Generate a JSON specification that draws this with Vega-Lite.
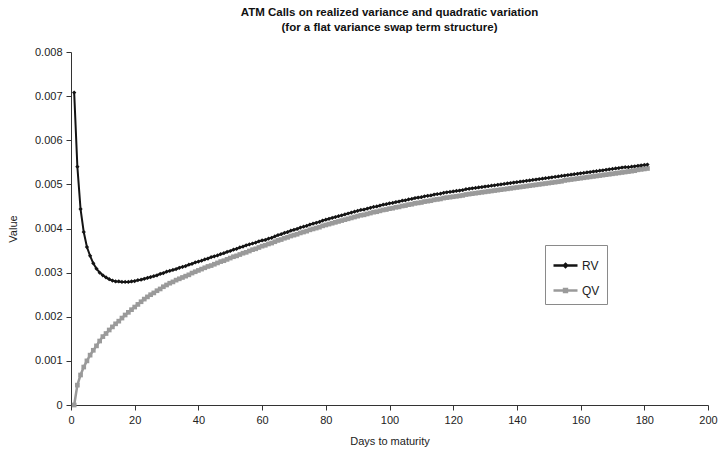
{
  "$schema": "https://vega.github.io/schema/vega-lite/v6.json",
  "autosize": "none",
  "width": 637,
  "height": 353,
  "padding": {"left": 71, "top": 52, "right": 11, "bottom": 45},
  "background": "white",
  "title": {
    "text": ["ATM Calls on realized variance and quadratic variation", "(for a flat variance swap term structure)"],
    "font": "Liberation Sans",
    "fontSize": 11.5,
    "fontWeight": "bold",
    "color": "#111111",
    "lineHeight": 15,
    "offset": 13,
    "anchor": "middle"
  },
  "config": {
    "view": {"stroke": null},
    "axis": {
      "grid": false,
      "labelFont": "Liberation Sans",
      "labelFontSize": 11,
      "labelColor": "#222222",
      "titleFont": "Liberation Sans",
      "titleFontSize": 11,
      "titleFontWeight": "normal",
      "titleColor": "#222222",
      "domainColor": "#333333",
      "tickColor": "#333333",
      "tickSize": 5,
      "labelPadding": 4,
      "labelFlush": false
    },
    "legend": {
      "labelFont": "Liberation Sans",
      "labelFontSize": 12,
      "labelColor": "#222222"
    }
  },
  "data": {
    "values": [
      {"d":1,"RV":0.00708,"QV":0},
      {"d":2,"RV":0.00540,"QV":0.00045},
      {"d":3,"RV":0.00444,"QV":0.00068},
      {"d":4,"RV":0.00392,"QV":0.00086},
      {"d":5,"RV":0.00358,"QV":0.00100},
      {"d":6,"RV":0.00338,"QV":0.00113},
      {"d":7,"RV":0.00321,"QV":0.00124},
      {"d":8,"RV":0.00309,"QV":0.00134},
      {"d":9,"RV":0.00300,"QV":0.00145},
      {"d":10,"RV":0.00294,"QV":0.00155},
      {"d":11,"RV":0.00289,"QV":0.00162},
      {"d":12,"RV":0.00285,"QV":0.00170},
      {"d":13,"RV":0.00282,"QV":0.00177},
      {"d":14,"RV":0.00280,"QV":0.00184},
      {"d":15,"RV":0.00280,"QV":0.00190},
      {"d":16,"RV":0.00279,"QV":0.00197},
      {"d":17,"RV":0.00279,"QV":0.00204},
      {"d":18,"RV":0.00279,"QV":0.00210},
      {"d":19,"RV":0.00280,"QV":0.00216},
      {"d":20,"RV":0.00281,"QV":0.00222},
      {"d":21,"RV":0.00283,"QV":0.00228},
      {"d":22,"RV":0.00284,"QV":0.00234},
      {"d":23,"RV":0.00286,"QV":0.00240},
      {"d":24,"RV":0.00288,"QV":0.00245},
      {"d":25,"RV":0.00290,"QV":0.00250},
      {"d":26,"RV":0.00292,"QV":0.00254},
      {"d":27,"RV":0.00294,"QV":0.00259},
      {"d":28,"RV":0.00297,"QV":0.00263},
      {"d":29,"RV":0.00299,"QV":0.00268},
      {"d":30,"RV":0.00302,"QV":0.00272},
      {"d":31,"RV":0.00304,"QV":0.00276},
      {"d":32,"RV":0.00306,"QV":0.00279},
      {"d":33,"RV":0.00308,"QV":0.00283},
      {"d":34,"RV":0.00311,"QV":0.00286},
      {"d":35,"RV":0.00313,"QV":0.00289},
      {"d":36,"RV":0.00315,"QV":0.00292},
      {"d":37,"RV":0.00318,"QV":0.00295},
      {"d":38,"RV":0.00320,"QV":0.00299},
      {"d":39,"RV":0.00323,"QV":0.00302},
      {"d":40,"RV":0.00325,"QV":0.00305},
      {"d":41,"RV":0.00327,"QV":0.00308},
      {"d":42,"RV":0.00330,"QV":0.00311},
      {"d":43,"RV":0.00332,"QV":0.00314},
      {"d":44,"RV":0.00335,"QV":0.00316},
      {"d":45,"RV":0.00337,"QV":0.00319},
      {"d":46,"RV":0.00339,"QV":0.00322},
      {"d":47,"RV":0.00342,"QV":0.00325},
      {"d":48,"RV":0.00344,"QV":0.00327},
      {"d":49,"RV":0.00347,"QV":0.00330},
      {"d":50,"RV":0.00349,"QV":0.00333},
      {"d":51,"RV":0.00352,"QV":0.00336},
      {"d":52,"RV":0.00354,"QV":0.00338},
      {"d":53,"RV":0.00357,"QV":0.00341},
      {"d":54,"RV":0.00359,"QV":0.00344},
      {"d":55,"RV":0.00362,"QV":0.00346},
      {"d":56,"RV":0.00364,"QV":0.00349},
      {"d":57,"RV":0.00366,"QV":0.00352},
      {"d":58,"RV":0.00368,"QV":0.00354},
      {"d":59,"RV":0.00371,"QV":0.00357},
      {"d":60,"RV":0.00373,"QV":0.00360},
      {"d":61,"RV":0.00374,"QV":0.00362},
      {"d":62,"RV":0.00377,"QV":0.00365},
      {"d":63,"RV":0.00379,"QV":0.00367},
      {"d":64,"RV":0.00382,"QV":0.00370},
      {"d":65,"RV":0.00385,"QV":0.00373},
      {"d":66,"RV":0.00387,"QV":0.00375},
      {"d":67,"RV":0.00390,"QV":0.00378},
      {"d":68,"RV":0.00392,"QV":0.00380},
      {"d":69,"RV":0.00395,"QV":0.00383},
      {"d":70,"RV":0.00397,"QV":0.00385},
      {"d":71,"RV":0.00399,"QV":0.00387},
      {"d":72,"RV":0.00402,"QV":0.00390},
      {"d":73,"RV":0.00404,"QV":0.00392},
      {"d":74,"RV":0.00406,"QV":0.00394},
      {"d":75,"RV":0.00409,"QV":0.00397},
      {"d":76,"RV":0.00411,"QV":0.00399},
      {"d":77,"RV":0.00413,"QV":0.00401},
      {"d":78,"RV":0.00415,"QV":0.00403},
      {"d":79,"RV":0.00418,"QV":0.00406},
      {"d":80,"RV":0.00420,"QV":0.00408},
      {"d":81,"RV":0.00422,"QV":0.00410},
      {"d":82,"RV":0.00424,"QV":0.00412},
      {"d":83,"RV":0.00426,"QV":0.00414},
      {"d":84,"RV":0.00428,"QV":0.00416},
      {"d":85,"RV":0.00430,"QV":0.00418},
      {"d":86,"RV":0.00432,"QV":0.00420},
      {"d":87,"RV":0.00434,"QV":0.00422},
      {"d":88,"RV":0.00436,"QV":0.00424},
      {"d":89,"RV":0.00438,"QV":0.00426},
      {"d":90,"RV":0.00440,"QV":0.00428},
      {"d":91,"RV":0.00442,"QV":0.00430},
      {"d":92,"RV":0.00443,"QV":0.00431},
      {"d":93,"RV":0.00445,"QV":0.00433},
      {"d":94,"RV":0.00447,"QV":0.00435},
      {"d":95,"RV":0.00449,"QV":0.00437},
      {"d":96,"RV":0.00450,"QV":0.00438},
      {"d":97,"RV":0.00452,"QV":0.00440},
      {"d":98,"RV":0.00454,"QV":0.00442},
      {"d":99,"RV":0.00455,"QV":0.00443},
      {"d":100,"RV":0.00457,"QV":0.00445},
      {"d":101,"RV":0.00458,"QV":0.00446},
      {"d":102,"RV":0.00460,"QV":0.00448},
      {"d":103,"RV":0.00461,"QV":0.00449},
      {"d":104,"RV":0.00463,"QV":0.00451},
      {"d":105,"RV":0.00464,"QV":0.00452},
      {"d":106,"RV":0.00466,"QV":0.00454},
      {"d":107,"RV":0.00467,"QV":0.00455},
      {"d":108,"RV":0.00469,"QV":0.00457},
      {"d":109,"RV":0.00470,"QV":0.00458},
      {"d":110,"RV":0.00471,"QV":0.00459},
      {"d":111,"RV":0.00473,"QV":0.00461},
      {"d":112,"RV":0.00474,"QV":0.00462},
      {"d":113,"RV":0.00475,"QV":0.00463},
      {"d":114,"RV":0.00477,"QV":0.00465},
      {"d":115,"RV":0.00478,"QV":0.00466},
      {"d":116,"RV":0.00479,"QV":0.00467},
      {"d":117,"RV":0.00481,"QV":0.00469},
      {"d":118,"RV":0.00482,"QV":0.00470},
      {"d":119,"RV":0.00483,"QV":0.00471},
      {"d":120,"RV":0.00484,"QV":0.00472},
      {"d":121,"RV":0.00485,"QV":0.00473},
      {"d":122,"RV":0.00486,"QV":0.00474},
      {"d":123,"RV":0.00487,"QV":0.00475},
      {"d":124,"RV":0.00489,"QV":0.00477},
      {"d":125,"RV":0.00490,"QV":0.00478},
      {"d":126,"RV":0.00491,"QV":0.00479},
      {"d":127,"RV":0.00492,"QV":0.00480},
      {"d":128,"RV":0.00493,"QV":0.00481},
      {"d":129,"RV":0.00494,"QV":0.00482},
      {"d":130,"RV":0.00495,"QV":0.00483},
      {"d":131,"RV":0.00496,"QV":0.00484},
      {"d":132,"RV":0.00497,"QV":0.00485},
      {"d":133,"RV":0.00498,"QV":0.00486},
      {"d":134,"RV":0.00499,"QV":0.00487},
      {"d":135,"RV":0.00500,"QV":0.00488},
      {"d":136,"RV":0.00501,"QV":0.00489},
      {"d":137,"RV":0.00502,"QV":0.00490},
      {"d":138,"RV":0.00503,"QV":0.00491},
      {"d":139,"RV":0.00504,"QV":0.00492},
      {"d":140,"RV":0.00505,"QV":0.00493},
      {"d":141,"RV":0.00506,"QV":0.00494},
      {"d":142,"RV":0.00507,"QV":0.00495},
      {"d":143,"RV":0.00508,"QV":0.00496},
      {"d":144,"RV":0.00509,"QV":0.00497},
      {"d":145,"RV":0.00510,"QV":0.00498},
      {"d":146,"RV":0.00511,"QV":0.00499},
      {"d":147,"RV":0.00512,"QV":0.00500},
      {"d":148,"RV":0.00513,"QV":0.00501},
      {"d":149,"RV":0.00514,"QV":0.00502},
      {"d":150,"RV":0.00515,"QV":0.00503},
      {"d":151,"RV":0.00516,"QV":0.00504},
      {"d":152,"RV":0.00517,"QV":0.00505},
      {"d":153,"RV":0.00518,"QV":0.00506},
      {"d":154,"RV":0.00519,"QV":0.00507},
      {"d":155,"RV":0.00520,"QV":0.00509},
      {"d":156,"RV":0.00521,"QV":0.00510},
      {"d":157,"RV":0.00522,"QV":0.00511},
      {"d":158,"RV":0.00523,"QV":0.00512},
      {"d":159,"RV":0.00524,"QV":0.00513},
      {"d":160,"RV":0.00525,"QV":0.00514},
      {"d":161,"RV":0.00526,"QV":0.00515},
      {"d":162,"RV":0.00527,"QV":0.00516},
      {"d":163,"RV":0.00528,"QV":0.00517},
      {"d":164,"RV":0.00529,"QV":0.00518},
      {"d":165,"RV":0.00530,"QV":0.00519},
      {"d":166,"RV":0.00531,"QV":0.00520},
      {"d":167,"RV":0.00532,"QV":0.00521},
      {"d":168,"RV":0.00533,"QV":0.00522},
      {"d":169,"RV":0.00534,"QV":0.00523},
      {"d":170,"RV":0.00535,"QV":0.00524},
      {"d":171,"RV":0.00536,"QV":0.00525},
      {"d":172,"RV":0.00537,"QV":0.00526},
      {"d":173,"RV":0.00538,"QV":0.00527},
      {"d":174,"RV":0.00539,"QV":0.00528},
      {"d":175,"RV":0.00539,"QV":0.00529},
      {"d":176,"RV":0.00540,"QV":0.00530},
      {"d":177,"RV":0.00541,"QV":0.00531},
      {"d":178,"RV":0.00542,"QV":0.00533},
      {"d":179,"RV":0.00543,"QV":0.00534},
      {"d":180,"RV":0.00544,"QV":0.00535},
      {"d":181,"RV":0.00545,"QV":0.00536}
    ]
  },
  "transform": [{"fold": ["QV", "RV"], "as": ["series", "value"]}],
  "encoding": {
    "x": {
      "field": "d", "type": "quantitative",
      "scale": {"domain": [0, 200], "nice": false},
      "axis": {"values": [0,20,40,60,80,100,120,140,160,180,200], "title": "Days to maturity", "titlePadding": 10}
    },
    "y": {
      "field": "value", "type": "quantitative",
      "scale": {"domain": [0, 0.008], "nice": false},
      "axis": {"values": [0,0.001,0.002,0.003,0.004,0.005,0.006,0.007,0.008], "format": "~g", "title": "Value", "titlePadding": 16}
    }
  },
  "layer": [
    {
      "transform": [{"filter": "datum.series == 'QV'"}],
      "mark": {"type": "line", "strokeWidth": 2.5, "color": "#9a9a9a"}
    },
    {
      "transform": [{"filter": "datum.series == 'QV'"}],
      "mark": {"type": "point", "shape": "square", "filled": true, "size": 22, "opacity": 1, "color": "#9a9a9a"}
    },
    {
      "transform": [{"filter": "datum.series == 'RV'"}],
      "mark": {"type": "line", "strokeWidth": 2, "color": "#141414"}
    },
    {
      "transform": [{"filter": "datum.series == 'RV'"}],
      "mark": {"type": "point", "shape": "diamond", "filled": true, "size": 18, "opacity": 1, "color": "#141414"}
    },
    {
      "mark": {"type": "point", "filled": false, "opacity": 0, "strokeWidth": 2.5},
      "encoding": {
        "color": {
          "field": "series", "type": "nominal",
          "scale": {"domain": ["RV", "QV"], "range": ["#141414", "#9a9a9a"]},
          "legend": {
            "title": null,
            "orient": "none",
            "legendX": 474,
            "legendY": 193,
            "padding": 7,
            "strokeColor": "#8a8a8a",
            "fillColor": "white",
            "symbolSize": 576,
            "symbolStrokeWidth": 2.5,
            "symbolOpacity": 1,
            "labelOffset": 3,
            "rowPadding": 4
          }
        },
        "shape": {
          "field": "series", "type": "nominal",
          "scale": {"domain": ["RV", "QV"], "range": ["M-1,0H1M0,-0.13L0.13,0L0,0.13L-0.13,0Z", "M-1,0H1M-0.12,-0.12H0.12V0.12H-0.12Z"]},
          "legend": {
            "title": null,
            "orient": "none",
            "legendX": 474,
            "legendY": 193,
            "padding": 7,
            "strokeColor": "#8a8a8a",
            "fillColor": "white",
            "symbolSize": 576,
            "symbolStrokeWidth": 2.5,
            "symbolOpacity": 1,
            "labelOffset": 3,
            "rowPadding": 4
          }
        }
      }
    }
  ]
}
